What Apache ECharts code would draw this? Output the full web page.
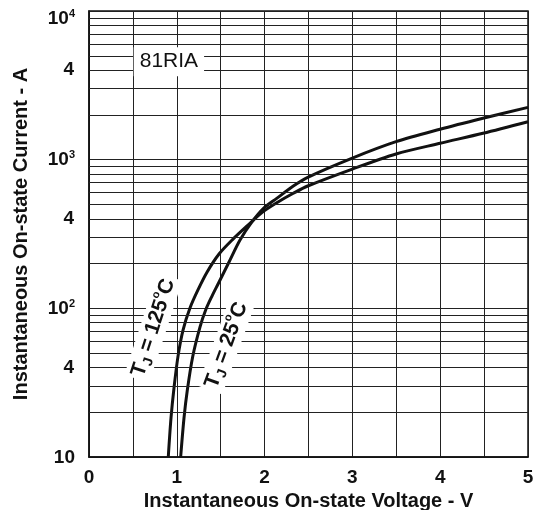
<!DOCTYPE html>
<html>
<head>
<meta charset="utf-8">
<script src="https://cdn.jsdelivr.net/npm/echarts@6/dist/echarts.min.js"></script>
<style>
html, body { margin: 0; padding: 0; background: #fff; }
#main { width: 544px; height: 510px; }
</style>
</head>
<body>
<div id="main"></div>
<script>
var myChart = echarts.init(document.getElementById('main'));

// curves (voltage V -> current A)
var volt125 = [0.903, 0.934, 0.968, 1.014, 1.071, 1.150, 1.241, 1.344, 1.481, 1.640, 1.811, 1.970, 2.153, 2.327, 2.491, 2.992, 3.497, 3.998, 4.487, 5.0];
var amp125  = [10, 18.3, 29.1, 47.7, 71.4, 100.5, 133, 175, 232, 292, 363, 441, 519, 594, 665, 861, 1092, 1288, 1504, 1799];
var volt25  = [1.044, 1.082, 1.120, 1.181, 1.264, 1.333, 1.401, 1.473, 1.595, 1.720, 1.856, 1.985, 2.138, 2.327, 2.491, 2.992, 3.497, 3.998, 4.487, 5.0];
var amp25   = [10, 18.3, 28.2, 47.3, 74.8, 98.9, 121, 147, 205, 288, 381, 469, 549, 665, 761, 1021, 1321, 1600, 1897, 2249];

// log grid lines between decades, and the ones labelled "4"
var minorLines = [20, 30, 40, 50, 60, 70, 80, 90,
                  200, 300, 400, 500, 600, 700, 800, 900,
                  2000, 3000, 4000, 5000, 6000, 7000, 8000, 9000];
var fourTicks = [40, 400, 4000];
var xLabels = [0, 1, 2, 3, 4, 5];

function pairs(xs, ys) {
    var out = [];
    for (var i = 0; i < xs.length; i++) {
        out.push([xs[i], ys[i]]);
    }
    return out;
}

var gridColor = '#222';
var ink = '#111';
var font = 'Liberation Sans, Arial, sans-serif';

var tjRich = {
    t: { fontSize: 21, fontWeight: 'bold', color: ink, lineHeight: 26 },
    j: { fontSize: 14, fontWeight: 'bold', color: ink, lineHeight: 26, verticalAlign: 'bottom' },
    d: { fontSize: 11, fontWeight: 'bold', color: ink, lineHeight: 26, verticalAlign: 'top' }
};

var option = {
    animation: false,
    backgroundColor: '#fff',
    textStyle: { fontFamily: font, color: ink },
    grid: {
        left: 89, right: 16, top: 11, bottom: 53,
        outerBoundsMode: 'none',
        show: true, borderColor: ink, borderWidth: 1.5
    },
    xAxis: {
        type: 'value',
        min: 0, max: 5, interval: 0.5,
        name: 'Instantaneous On-state Voltage - V',
        nameLocation: 'middle',
        nameGap: 31,
        nameTextStyle: { fontSize: 20, fontWeight: 'bold', color: ink },
        axisLine: { show: true, lineStyle: { color: ink, width: 1.5 } },
        axisTick: { show: false },
        axisLabel: {
            margin: 11,
            fontSize: 19,
            fontWeight: 'bold',
            color: ink,
            formatter: function (v) {
                return xLabels.indexOf(v) >= 0 ? String(v) : '';
            }
        },
        splitLine: { show: true, lineStyle: { color: gridColor, width: 1 } }
    },
    yAxis: {
        type: 'log',
        logBase: 10,
        min: 10, max: 10000,
        name: 'Instantaneous On-state Current - A',
        nameLocation: 'middle',
        nameGap: 58,
        nameTextStyle: { fontSize: 20, fontWeight: 'bold', color: ink },
        axisLine: { show: true, lineStyle: { color: ink, width: 1.5 } },
        axisTick: { show: false },
        axisLabel: {
            margin: 14,
            formatter: function (v) {
                var e = Math.round(Math.log10(v));
                if (e === 1) return '{n|10}';
                if (e === 4) return '{g| }\n{n|10}{s|4}';
                return '{n|10}{s|' + e + '}';
            },
            rich: {
                g: { fontSize: 10, lineHeight: 14 },
                n: { fontSize: 19, fontWeight: 'bold', color: ink, lineHeight: 20, verticalAlign: 'bottom' },
                s: { fontSize: 11, fontWeight: 'bold', color: ink, lineHeight: 20, verticalAlign: 'top' }
            }
        },
        splitLine: { show: true, lineStyle: { color: gridColor, width: 1 } }
    },
    series: [
        {
            // only carries the in-between log grid lines
            name: 'grid',
            type: 'line',
            data: [],
            z: 1,
            silent: true,
            markLine: {
                silent: true,
                symbol: 'none',
                animation: false,
                lineStyle: { type: 'solid', color: gridColor, width: 1 },
                label: { show: false },
                emphasis: { disabled: true },
                data: minorLines.map(function (v) {
                    var item = { yAxis: v };
                    if (fourTicks.indexOf(v) >= 0) {
                        item.label = {
                            show: true,
                            position: 'start',
                            formatter: '4',
                            distance: 15,
                            fontSize: 19,
                            fontWeight: 'bold',
                            color: ink
                        };
                    }
                    return item;
                })
            }
        },
        {
            name: 'TJ = 125°C',
            type: 'line',
            data: pairs(volt125, amp125),
            smooth: 0.3,
            showSymbol: false,
            z: 3,
            lineStyle: { color: ink, width: 3 },
            markPoint: {
                symbol: 'rect',
                symbolSize: 0,
                silent: true,
                data: [
                    {
                        coord: [0.91, 4560],
                        label: {
                            show: true,
                            position: 'inside',
                            formatter: '81RIA',
                            fontSize: 21,
                            color: ink,
                            backgroundColor: '#fff',
                            padding: [4, 6]
                        }
                    },
                    {
                        coord: [0.733, 74],
                        label: {
                            show: true,
                            position: 'inside',
                            rotate: 72,
                            formatter: '{t|T}{j|J}{t| = 125}{d|o}{t|C}',
                            backgroundColor: '#fff',
                            padding: [0, 3],
                            rich: tjRich
                        }
                    }
                ]
            }
        },
        {
            name: 'TJ = 25°C',
            type: 'line',
            data: pairs(volt25, amp25),
            smooth: 0.3,
            showSymbol: false,
            z: 3,
            lineStyle: { color: ink, width: 3 },
            markPoint: {
                symbol: 'rect',
                symbolSize: 0,
                silent: true,
                data: [
                    {
                        coord: [1.565, 56.6],
                        label: {
                            show: true,
                            position: 'inside',
                            rotate: 70,
                            formatter: '{t|T}{j|J}{t| = 25}{d|o}{t|C}',
                            backgroundColor: '#fff',
                            padding: [0, 3],
                            rich: tjRich
                        }
                    }
                ]
            }
        }
    ]
};
myChart.setOption(option);
</script>
</body>
</html>
